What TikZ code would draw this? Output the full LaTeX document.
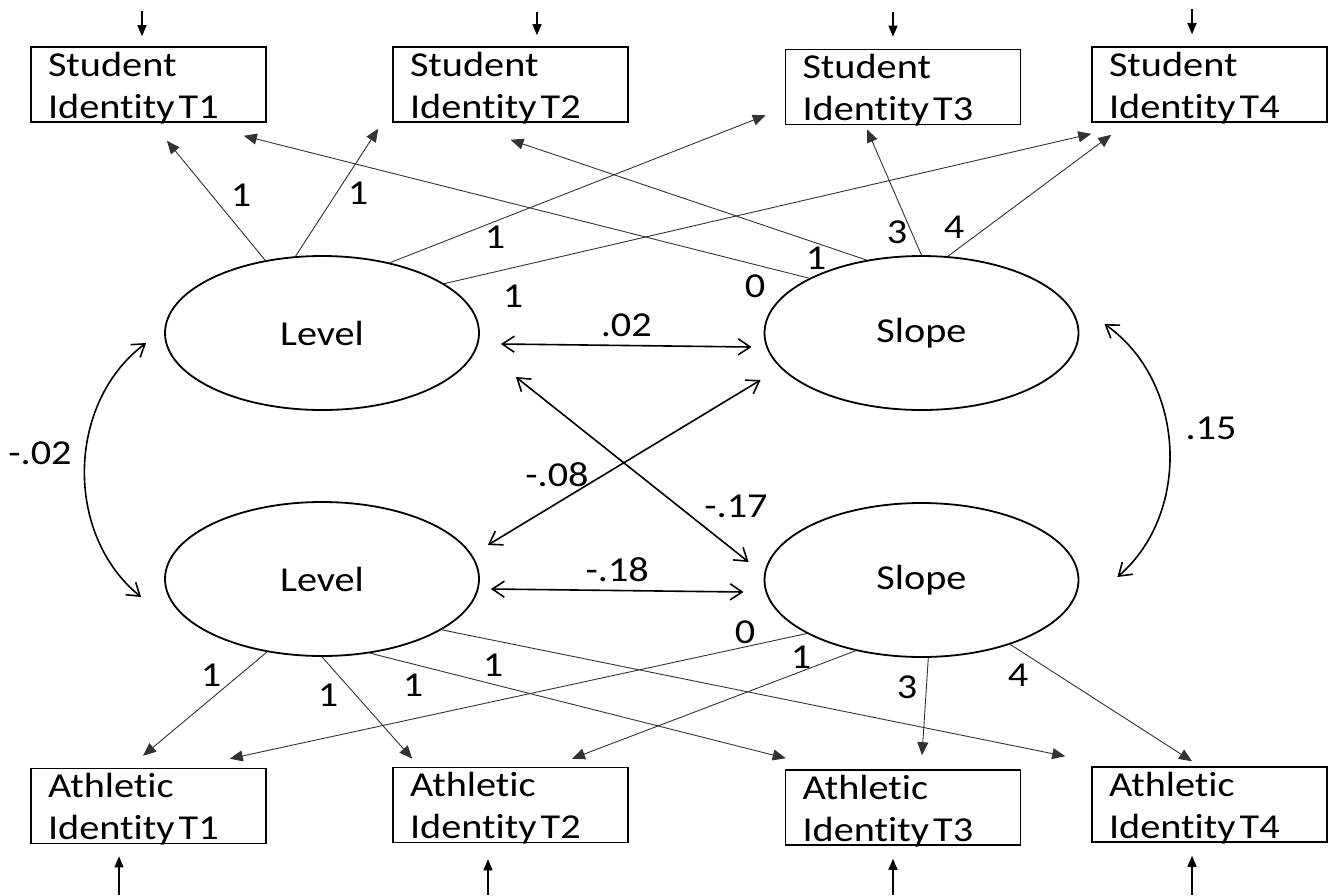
\documentclass[tikz,border=0pt]{standalone}
\usepackage{fontspec}
\setmainfont[FakeStretch=1.15, Ligatures=NoCommon]{Carlito}
\usetikzlibrary{arrows.meta,calc,shapes.geometric}

\begin{document}
\begin{tikzpicture}[
    x=1pt, y=-1pt,
    font=\fontsize{35}{42}\selectfont,
    mbox/.style={
        draw,
        line width=1.6pt,
        minimum width=235pt,
        text width=201pt,
        text height=29pt,
        text depth=46pt,
        align=left,
        inner xsep=17pt,
        inner ysep=0pt
    },
    latent/.style={
        draw,
        ellipse,
        line width=1.8pt,
        minimum width=314pt,
        minimum height=154pt,
        inner sep=0pt
    },
    lab/.style={inner sep=0pt},
    load/.style={-{Triangle[length=13pt,width=11pt]}, line width=0.9pt, draw=black!80},
    err/.style={-{Triangle[length=11pt,width=9pt]}, line width=1.2pt},
    cov/.style={{Straight Barb[length=12pt,width=16pt]}-{Straight Barb[length=12pt,width=16pt]}, line width=1.6pt}
]
\useasboundingbox (0,0) rectangle (1335,895);

% ---------------------------------------------------------------------------
% Indicators — Student identity
% ---------------------------------------------------------------------------
\node[mbox] (st1) at (148.5,84.5) {Student\\Identity\kern0.12em T1};
\node[mbox] (st2) at (510.5,84.5) {Student\\Identity\kern0.12em T2};
\node[mbox] (st3) at (903,87)     {Student\\Identity\kern0.12em T3};
\node[mbox] (st4) at (1209.5,84.5) {Student\\Identity\kern0.12em T4};

% ---------------------------------------------------------------------------
% Indicators — Athletic identity
% ---------------------------------------------------------------------------
\node[mbox] (at1) at (148.5,806)  {Athletic\\Identity\kern0.12em T1};
\node[mbox] (at2) at (510.5,805)  {Athletic\\Identity\kern0.12em T2};
\node[mbox] (at3) at (903,807.5)  {Athletic\\Identity\kern0.12em T3};
\node[mbox] (at4) at (1209.5,804.5) {Athletic\\Identity\kern0.12em T4};

% ---------------------------------------------------------------------------
% Growth factors
% ---------------------------------------------------------------------------
\node[latent] (lvT) at (322,333)   {Level};
\node[latent] (slT) at (921.5,333) {Slope};
\node[latent] (lvB) at (322,579)   {Level};
\node[latent] (slB) at (921.5,580) {Slope};

% ---------------------------------------------------------------------------
% Residual arrows
% ---------------------------------------------------------------------------
\coordinate (es1) at (142,11);
\coordinate (es2) at (537,12);
\coordinate (es3) at (893,12);
\coordinate (es4) at (1192,9);
\draw[err, shorten >=10pt] (es1) -- (es1 |- st1.north);
\draw[err, shorten >=11pt] (es2) -- (es2 |- st2.north);
\draw[err, shorten >=12pt] (es3) -- (es3 |- st3.north);
\draw[err, shorten >=12pt] (es4) -- (es4 |- st4.north);

\coordinate (ea1) at (119,895);
\coordinate (ea2) at (488,895);
\coordinate (ea3) at (893,895);
\coordinate (ea4) at (1192,895);
\draw[err, shorten >=12pt] (ea1) -- (ea1 |- at1.south);
\draw[err, shorten >=16pt] (ea2) -- (ea2 |- at2.south);
\draw[err, shorten >=13pt] (ea3) -- (ea3 |- at3.south);
\draw[err, shorten >=13pt] (ea4) -- (ea4 |- at4.south);

% ---------------------------------------------------------------------------
% Loadings — top
% ---------------------------------------------------------------------------
\draw[load] (lvT.128) -- ([shift={(18.5,18)}]st1.south);
\draw[load] (lvT.109) -- ([shift={(-14,6)}]st2.south west);
\draw[load] (lvT.46)  -- ([shift={(-19,-10)}]st3.south west);
\draw[load] (lvT.22)  -- ([shift={(0,11)}]st4.south west);
\draw[load] (slT.154) -- ([shift={(-23,13)}]st1.south east);
\draw[load] (slT.127) -- ([shift={(0,17)}]st2.south);
\draw[load] (slT.90)  -- ([shift={(-36,4)}]st3.south);
\draw[load] (slT.71)  -- ([shift={(20,12)}]st4.south west);

\node[lab] (n1) at (241,195) {1};
\node[lab] (n2) at (358,193) {1};
\node[lab] (n3) at (495,237) {1};
\node[lab] (n4) at (513,296) {1};
\node[lab] (n5) at (755,286) {0};
\node[lab] (n6) at (816,258) {1};
\node[lab] (n7) at (897,232) {3};
\node[lab] (n8) at (954,227) {4};

% ---------------------------------------------------------------------------
% Loadings — bottom
% ---------------------------------------------------------------------------
\draw[load] (lvB.233) -- ([shift={(-5.5,-12)}]at1.north);
\draw[load] (lvB.270) -- ([shift={(20,-8)}]at2.north west);
\draw[load] (lvB.303) -- ([shift={(1,-11)}]at3.north west);
\draw[load] (lvB.337) -- ([shift={(-26,-10)}]at4.north west);
\draw[load] (slB.205) -- ([shift={(-37,-9)}]at1.north east);
\draw[load] (slB.227) -- ([shift={(61.5,-8)}]at2.north);
\draw[load] (slB.275) -- ([shift={(19,-14)}]at3.north);
\draw[load] (slB.324) -- ([shift={(-17.5,-5)}]at4.north);

\node[lab] (m1) at (211,675)  {1};
\node[lab] (m2) at (328,695)  {1};
\node[lab] (m3) at (413,685)  {1};
\node[lab] (m4) at (493,665)  {1};
\node[lab] (m5) at (745,632)  {0};
\node[lab] (m6) at (801,657)  {1};
\node[lab] (m7) at (907,687)  {3};
\node[lab] (m8) at (1018,675) {4};

% ---------------------------------------------------------------------------
% Covariances
% ---------------------------------------------------------------------------
\draw[cov] ([shift={(21,11)}]lvT.east) -- node[lab, above=8pt] (c1) {.02} ([shift={(-12,14)}]slT.west);
\draw[cov] ([shift={(11,10)}]lvB.east) -- node[lab, above=8pt] (c2) {-.18} ([shift={(-20,12)}]slB.west);
\draw[cov] ([shift={(36,44)}]lvT.east) -- ([shift={(-15,-18)}]slB.west);
\draw[cov] ([shift={(-3,47)}]slT.west) -- ([shift={(8,-34)}]lvB.east);
\node[lab] (c3) at (736,506) {-.17};
\node[lab] (c4) at (557,475) {-.08};

\draw[cov] ([shift={(-18,10)}]lvT.west) to[bend right=52] ([shift={(-23,18)}]lvB.west);
\draw[cov] ([shift={(25,-9)}]slT.east) to[bend left=52] ([shift={(38,-3)}]slB.east);
\node[lab] (c5) at (40,453)   {-.02};
\node[lab] (c6) at (1211,428) {.15};

\end{tikzpicture}
\end{document}
